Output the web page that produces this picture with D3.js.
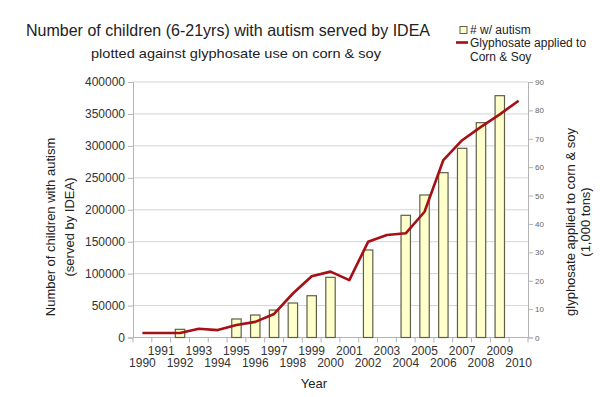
<!DOCTYPE html>
<html>
<head>
<meta charset="utf-8">
<script src="https://cdn.jsdelivr.net/npm/d3@7"></script>
<style>
  body { margin: 0; background: #fff; }
  svg { font-family: "Liberation Sans", Arial, sans-serif; }
</style>
</head>
<body>
<svg id="chart" width="600" height="397"></svg>
<script>
// years on the x axis (one band each)
const years = [1990, 1991, 1992, 1993, 1994, 1995, 1996, 1997, 1998, 1999, 2000,
  2001, 2002, 2003, 2004, 2005, 2006, 2007, 2008, 2009, 2010];
// children with autism served by IDEA (null = no bar)
const autism = [null, null, 12800, null, null, 29000, 35200, 43000, 54000, 65400, 94200,
  null, 137000, null, 191300, 223100, 258000, 296200, 336300, 378600, null];
// glyphosate on corn & soy, 1,000 tons
const glyphosate = [1.6, 1.6, 1.6, 3.1, 2.6, 4.4, 5.5, 8.3, 15.5, 21.6, 23.2,
  20.2, 33.7, 36.1, 36.7, 44.3, 62.5, 69.5, 74.2, 78.6, 83.4];
const leftTicks = [0, 50000, 100000, 150000, 200000, 250000, 300000, 350000, 400000];
const rightTicks = [0, 10, 20, 30, 40, 50, 60, 70, 80, 90];

const svg = d3.select("#chart");
const plot = { left: 133, right: 528, top: 82, bottom: 337.5 };

const x = d3.scaleBand().domain(years).range([plot.left, plot.right]);
const yL = d3.scaleLinear().domain([0, 400000]).range([plot.bottom, plot.top]);
const yR = d3.scaleLinear().domain([0, 90]).range([plot.bottom, plot.top]);

// gridlines
svg.append("g")
  .selectAll("line")
  .data(leftTicks)
  .join("line")
  .attr("x1", plot.left)
  .attr("x2", plot.right)
  .attr("y1", d => yL(d))
  .attr("y2", d => yL(d))
  .attr("stroke", "#d4d4d4")
  .attr("stroke-width", 1);

// left axis
const leftAxis = svg.append("g")
  .attr("transform", `translate(${plot.left},0)`)
  .call(d3.axisLeft(yL).tickValues(leftTicks).tickSize(5).tickPadding(3).tickFormat(d3.format("d")));
leftAxis.select(".domain").attr("stroke", "#b3b3b3");
leftAxis.selectAll(".tick line").attr("stroke", "#b3b3b3");
leftAxis.selectAll("text").attr("font-size", 12).attr("fill", "#333")
  .attr("font-family", "Liberation Sans, Arial, sans-serif");

// right axis
const rightAxis = svg.append("g")
  .attr("transform", `translate(${plot.right},0)`)
  .call(d3.axisRight(yR).tickValues(rightTicks).tickSize(5).tickPadding(2));
rightAxis.select(".domain").attr("stroke", "#b3b3b3");
rightAxis.selectAll(".tick line").attr("stroke", "#b3b3b3");
rightAxis.selectAll("text").attr("font-size", 8).attr("fill", "#666")
  .attr("font-family", "Liberation Sans, Arial, sans-serif");

// bottom axis: ticks at band boundaries, labels staggered in two rows
const xAxis = svg.append("g").attr("transform", `translate(0,${plot.bottom})`);
xAxis.append("line")
  .attr("x1", plot.left).attr("x2", plot.right)
  .attr("stroke", "#b3b3b3");
xAxis.selectAll("line.tk")
  .data(years.concat(["end"]))
  .join("line")
  .attr("class", "tk")
  .attr("x1", (d, i) => plot.left + i * x.step())
  .attr("x2", (d, i) => plot.left + i * x.step())
  .attr("y1", 0).attr("y2", 5)
  .attr("stroke", "#b3b3b3");
xAxis.selectAll("text")
  .data(years)
  .join("text")
  .attr("x", d => x(d) + x.bandwidth() / 2)
  .attr("y", (d, i) => i % 2 ? 17 : 29)
  .attr("text-anchor", "middle")
  .attr("font-size", 12)
  .attr("fill", "#333")
  .text(d => d);

// bars
svg.append("g")
  .selectAll("rect")
  .data(years.map((yr, i) => ({ yr, v: autism[i] })).filter(d => d.v != null))
  .join("rect")
  .attr("x", d => x(d.yr) + x.bandwidth() * 0.25)
  .attr("width", x.bandwidth() * 0.5)
  .attr("y", d => yL(d.v))
  .attr("height", d => plot.bottom - yL(d.v))
  .attr("fill", "#ffffcc")
  .attr("stroke", "#5f5f48")
  .attr("stroke-width", 1.2);

// glyphosate line
const line = d3.line()
  .x((d, i) => x(years[i]) + x.bandwidth() / 2)
  .y(d => yR(d));
svg.append("path")
  .datum(glyphosate)
  .attr("d", line)
  .attr("fill", "none")
  .attr("stroke", "#a50f15")
  .attr("stroke-width", 2.6)
  .attr("stroke-linejoin", "round");

// titles
svg.append("text")
  .attr("x", 228).attr("y", 36)
  .attr("text-anchor", "middle")
  .attr("font-size", 16.5).attr("fill", "#222")
  .attr("textLength", 404).attr("lengthAdjust", "spacingAndGlyphs")
  .text("Number of children (6-21yrs) with autism served by IDEA");
svg.append("text")
  .attr("x", 236).attr("y", 58)
  .attr("text-anchor", "middle")
  .attr("font-size", 13.5).attr("fill", "#222")
  .attr("textLength", 290).attr("lengthAdjust", "spacingAndGlyphs")
  .text("plotted against glyphosate use on corn & soy");

// axis titles
svg.append("text")
  .attr("transform", "translate(55,227) rotate(-90)")
  .attr("text-anchor", "middle")
  .attr("font-size", 13).attr("fill", "#222")
  .text("Number of children with autism");
svg.append("text")
  .attr("transform", "translate(74,227) rotate(-90)")
  .attr("text-anchor", "middle")
  .attr("font-size", 13).attr("fill", "#222")
  .text("(served by IDEA)");
svg.append("text")
  .attr("transform", "translate(575,222) rotate(-90)")
  .attr("text-anchor", "middle")
  .attr("font-size", 13).attr("fill", "#222")
  .text("glyphosate applied to corn & soy");
svg.append("text")
  .attr("transform", "translate(590,222) rotate(-90)")
  .attr("text-anchor", "middle")
  .attr("font-size", 13).attr("fill", "#222")
  .text("(1,000 tons)");
svg.append("text")
  .attr("x", 314).attr("y", 388)
  .attr("text-anchor", "middle")
  .attr("font-size", 13).attr("fill", "#222")
  .text("Year");

// legend
const legend = svg.append("g");
legend.append("rect")
  .attr("x", 460).attr("y", 26.5).attr("width", 7).attr("height", 7)
  .attr("fill", "#ffffcc").attr("stroke", "#5f5f48");
legend.append("text")
  .attr("x", 470).attr("y", 33.5)
  .attr("font-size", 12).attr("fill", "#222")
  .text("# w/ autism");
legend.append("line")
  .attr("x1", 456).attr("x2", 468).attr("y1", 42.5).attr("y2", 42.5)
  .attr("stroke", "#a50f15").attr("stroke-width", 2.6);
legend.append("text")
  .attr("x", 470).attr("y", 47)
  .attr("font-size", 12).attr("fill", "#222")
  .text("Glyphosate applied to");
legend.append("text")
  .attr("x", 470).attr("y", 60.5)
  .attr("font-size", 12).attr("fill", "#222")
  .text("Corn & Soy");
</script>
</body>
</html>
